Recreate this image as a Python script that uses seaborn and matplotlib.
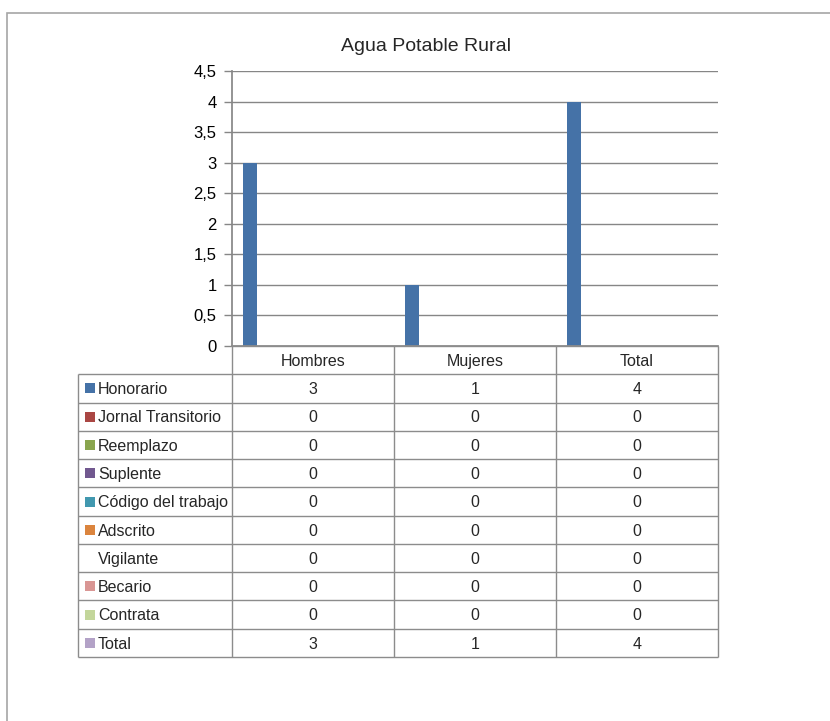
"""
Agua Potable Rural: columnas por tipo de contrato, con tabla de datos debajo.
"""

import matplotlib
matplotlib.use("Agg")
import numpy as np
import pandas as pd
import matplotlib.pyplot as plt
import seaborn as sns
from matplotlib.patches import Rectangle

categories = ["Hombres", "Mujeres", "Total"]
series = ["Honorario", "Jornal Transitorio", "Reemplazo", "Suplente",
          "Código del trabajo", "Adscrito", "Vigilante", "Becario",
          "Contrata", "Total"]

honorario = [3, 1, 4]
jornal_transitorio = [0, 0, 0]
reemplazo = [0, 0, 0]
suplente = [0, 0, 0]
codigo_trabajo = [0, 0, 0]
adscrito = [0, 0, 0]
vigilante = [0, 0, 0]
becario = [0, 0, 0]
contrata = [0, 0, 0]
total = [3, 1, 4]

colors = ["#4572a7", "#aa4643", "#89a54e", "#71588f", "#4198af",
          "#db843d", "#ffffff", "#d99694", "#c3d69b", "#b3a2c7"]

yticks = [0, 0.5, 1, 1.5, 2, 2.5, 3, 3.5, 4, 4.5]

W, H = 830, 721
GRID = "#868686"
LINE = "#8c8c8c"
FS = 11.5
CAP = 5.8  # half cap height in px, to center text by its caps


def px_axes(fig, x0, y0, x1, y1):
    """axes placed by pixel box (top-left origin)"""
    return fig.add_axes([x0 / W, 1 - y1 / H, (x1 - x0) / W, (y1 - y0) / H])


def main():
    values = [honorario, jornal_transitorio, reemplazo, suplente,
              codigo_trabajo, adscrito, vigilante, becario, contrata, total]

    rows = []
    for name, vals in zip(series, values):
        for cat, v in zip(categories, vals):
            rows.append({"serie": name, "categoria": cat, "valor": v})
    df = pd.DataFrame(rows)
    # the Total series is only shown in the table, not as bars
    df_plot = df[df["serie"] != "Total"]

    sns.set_theme(style="white")
    plt.rcParams['font.family'] = ['Liberation Sans', 'DejaVu Sans']

    fig = plt.figure(figsize=(W / 100, H / 100), dpi=100)

    ax = px_axes(fig, 232, 71, 718, 346)
    sns.barplot(data=df_plot, x="categoria", y="valor", hue="serie",
                order=categories, hue_order=series,
                palette=dict(zip(series, colors)), width=10 / 11.5,
                saturation=1, linewidth=0, errorbar=None, legend=False,
                ax=ax)
    ax.set_xlim(-0.5, len(categories) - 0.5)
    ax.set_ylim(0, 4.5)
    ax.set_yticks(yticks)
    ax.set_yticklabels([f"{v:g}".replace(".", ",") for v in yticks])
    ax.set_xticks([])
    ax.set_xlabel("")
    ax.set_ylabel("")
    ax.yaxis.grid(True, color=GRID, lw=1)
    ax.set_axisbelow(True)
    for s in ["top", "right"]:
        ax.spines[s].set_visible(False)
    ax.spines["left"].set_color(GRID)
    ax.spines["bottom"].set_color(LINE)
    ax.tick_params(axis="y", length=6, width=1, color=GRID, pad=5,
                   labelsize=FS + 0.5, left=True, labelcolor="black")

    fig.text(426 / W, 1 - 51 / H, "Agua Potable Rural", ha="center",
             va="baseline", fontsize=14)

    # data table under the plot
    tax = px_axes(fig, 78, 346, 718, 657)
    tax.set_xlim(78, 718)
    tax.set_ylim(657, 346)
    tax.axis("off")
    col_edges = [78, 232, 394, 556, 718]
    rh = (657 - 346) / (len(series) + 1)
    row_edges = [346 + rh * i for i in range(len(series) + 2)]

    tax.hlines(row_edges[1:], 78, 718, color=LINE, lw=1, clip_on=False)
    tax.hlines(row_edges[0], 232, 718, color=LINE, lw=1, clip_on=False)
    tax.vlines(col_edges[1:], row_edges[0], row_edges[-1], color=LINE, lw=1,
               clip_on=False)
    tax.vlines(col_edges[0], row_edges[1], row_edges[-1], color=LINE, lw=1,
               clip_on=False)

    for j, cat in enumerate(categories):
        xc = (col_edges[j + 1] + col_edges[j + 2]) / 2
        tax.text(xc, row_edges[0] + rh / 2 + CAP, cat, ha="center",
                 va="baseline", fontsize=FS)

    for i, (name, vals) in enumerate(zip(series, values)):
        yc = row_edges[i + 1] + rh / 2
        tax.add_patch(Rectangle((85, yc - 5), 10, 10, color=colors[i], lw=0))
        tax.text(98, yc + CAP, name, ha="left", va="baseline", fontsize=FS)
        for j, v in enumerate(vals):
            xc = (col_edges[j + 1] + col_edges[j + 2]) / 2
            tax.text(xc, yc + CAP, f"{v:g}", ha="center", va="baseline",
                     fontsize=FS)

    # outer chart frame (cropped by the picture edge)
    fig.add_artist(Rectangle((7 / W, -0.1), 2, 1 - 13 / H + 0.1,
                             transform=fig.transFigure, fill=False,
                             edgecolor="#a6a6a6", lw=1.2))

    fig.savefig("out.png", dpi=100)


if __name__ == "__main__":
    main()
